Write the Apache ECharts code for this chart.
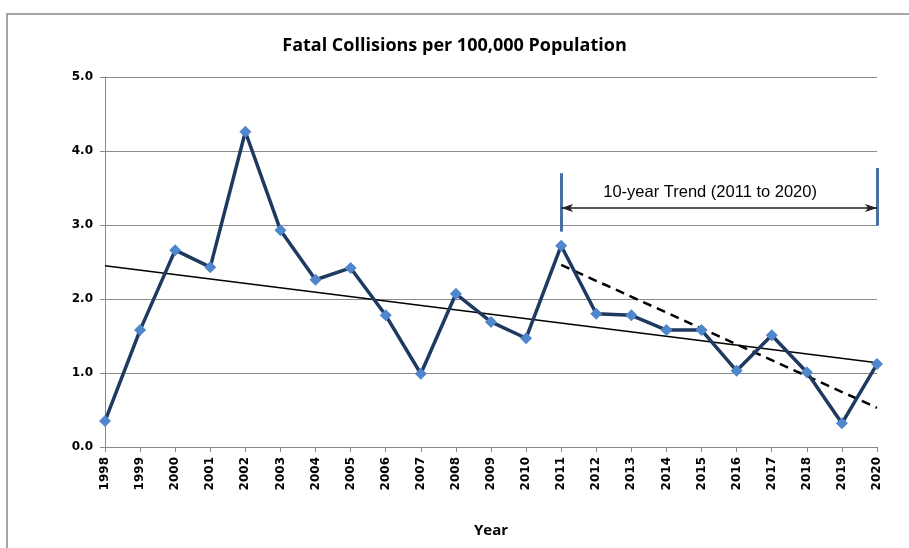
<!DOCTYPE html>
<html>
<head>
<meta charset="utf-8">
<script src="https://cdn.jsdelivr.net/npm/echarts@6/dist/echarts.min.js"></script>
<style>
html, body { margin: 0; padding: 0; background: #fff; }
#main { width: 909px; height: 548px; }
</style>
</head>
<body>
<div id="main"></div>
<script>
// data
var years = ['1998', '1999', '2000', '2001', '2002', '2003', '2004', '2005', '2006', '2007', '2008',
    '2009', '2010', '2011', '2012', '2013', '2014', '2015', '2016', '2017', '2018', '2019', '2020'];
var rates = [0.35, 1.58, 2.66, 2.43, 4.26, 2.93, 2.26, 2.42, 1.78, 0.99, 2.07,
    1.69, 1.47, 2.72, 1.80, 1.78, 1.58, 1.58, 1.03, 1.51, 1.01, 0.32, 1.12];
// trend lines: only end points are known
var trendAll = [2.45, null, null, null, null, null, null, null, null, null, null,
    null, null, null, null, null, null, null, null, null, null, null, 1.14];
var trend10 = [null, null, null, null, null, null, null, null, null, null, null,
    null, null, 2.46, null, null, null, null, null, null, null, null, 0.53];
var yTicks = [0, 1, 2, 3, 4, 5];

var myChart = echarts.init(document.getElementById('main'));

var barStyle = { color: '#4a6fa5', width: 3, type: 'solid' };

var option = {
    animation: false,
    textStyle: { fontFamily: 'Liberation Sans' },
    title: {
        text: 'Fatal Collisions per 100,000 Population',
        left: 'center',
        top: 32,
        textStyle: { fontSize: 18, fontWeight: 'bold', color: '#000', fontFamily: 'Open Sans' }
    },
    graphic: [{
        type: 'rect',
        shape: { x: 7, y: 14, width: 920, height: 560 },
        style: { fill: 'none', stroke: '#888', lineWidth: 1.5 },
        silent: true
    }],
    grid: { left: 105, right: 32, top: 77, bottom: 101 },
    xAxis: {
        type: 'category',
        data: years,
        boundaryGap: false,
        name: 'Year',
        nameLocation: 'middle',
        nameGap: 76,
        nameTextStyle: { fontSize: 15, fontWeight: 'bold', color: '#000', fontFamily: 'Open Sans' },
        axisLine: { lineStyle: { color: '#888' } },
        axisTick: { show: true, length: 5, lineStyle: { color: '#888' } },
        axisLabel: { rotate: 90, fontSize: 12, fontWeight: 'bold', color: '#000', margin: 10, fontFamily: 'DejaVu Sans' }
    },
    yAxis: {
        type: 'value',
        min: yTicks[0],
        max: yTicks[yTicks.length - 1],
        interval: 1,
        axisLine: { show: true, lineStyle: { color: '#888' } },
        axisTick: { show: true, length: 5, lineStyle: { color: '#888' } },
        axisLabel: {
            fontSize: 12, fontWeight: 'bold', color: '#000', margin: 12, fontFamily: 'DejaVu Sans',
            formatter: function (v) { return v.toFixed(1); }
        },
        splitLine: { lineStyle: { color: '#8c8c8c', width: 1 } }
    },
    series: [
        {
            name: 'trend',
            type: 'line',
            data: trendAll,
            connectNulls: true,
            symbol: 'none',
            lineStyle: { color: '#000', width: 1.5 },
            z: 2
        },
        {
            name: 'trend10',
            type: 'line',
            data: trend10,
            connectNulls: true,
            symbol: 'none',
            lineStyle: { color: '#000', width: 2.5, type: [9, 6] },
            z: 2
        },
        {
            name: 'rate',
            type: 'line',
            data: rates,
            symbol: 'diamond',
            symbolSize: 12,
            itemStyle: { color: '#4f86cc' },
            lineStyle: { color: '#1f3a60', width: 3.5 },
            z: 3,
            markLine: {
                silent: true,
                symbol: 'none',
                label: { show: false },
                data: [
                    [{ coord: ['2011', 2.91], lineStyle: barStyle }, { coord: ['2011', 3.70] }],
                    [{ coord: ['2020', 2.99], lineStyle: barStyle }, { coord: ['2020', 3.77] }],
                    [{
                        coord: ['2011', 3.23],
                        symbol: 'arrow',
                        symbolSize: [6, 12],
                        lineStyle: { color: '#222', width: 1.5, type: 'solid' },
                        label: {
                            show: true,
                            position: 'insideMiddleTop',
                            distance: 7,
                            offset: [-9, 0],
                            formatter: '10-year Trend (2011 to 2020)',
                            fontSize: 16.5,
                            color: '#000',
                            fontFamily: 'Liberation Sans'
                        }
                    }, { coord: ['2020', 3.23], symbol: 'arrow', symbolSize: [6, 12] }]
                ]
            }
        }
    ]
};

myChart.setOption(option);
window.onresize = function () {
    myChart.resize();
};
</script>
</body>
</html>
